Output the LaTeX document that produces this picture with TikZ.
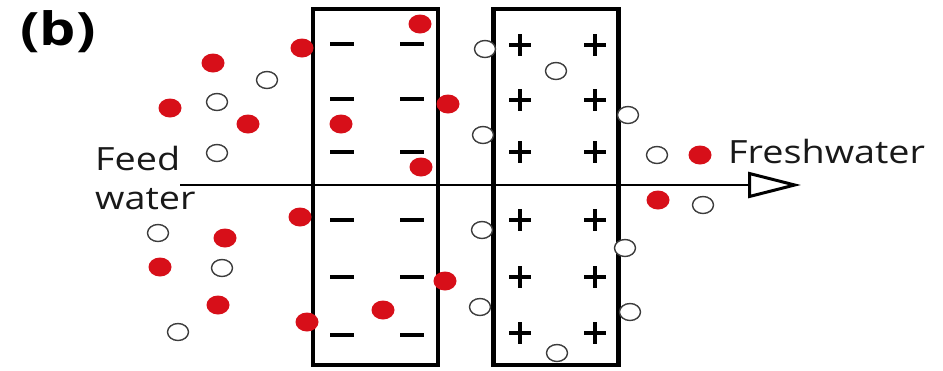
\documentclass[tikz,border=0pt]{standalone}
\usepackage{fontspec}
\setmainfont{Open Sans}
\usetikzlibrary{shapes.geometric,arrows.meta}
\definecolor{ionred}{RGB}{215,15,25}
\definecolor{ringgray}{RGB}{60,60,60}
\tikzset{
  membrane/.style={draw=black,line width=4.5pt,rectangle,minimum width=125pt,minimum height=356pt,inner sep=0pt},
  cation/.style={ellipse,fill=ionred,draw=none,minimum width=23pt,minimum height=19pt,inner sep=0pt},
  anion/.style={ellipse,fill=white,draw=ringgray,line width=1.4pt,minimum width=21pt,minimum height=17pt,inner sep=0pt},
  chargebar/.style={line width=3.5pt},
  lbl/.style={font=\fontsize{32}{34}\selectfont,xscale=1.18,inner sep=0pt,text=black!90}
}
\begin{document}
\begin{tikzpicture}[x=1pt,y=-1pt]
\useasboundingbox (0,0) rectangle (943,370);
% labels
\node[font=\fontsize{46}{48}\bfseries\selectfont,xscale=1.25,inner sep=0pt,anchor=base west] (b) at (20,45) {(b)};
\node[lbl,anchor=base west] (feed) at (95,170) {Feed};
\node[lbl,anchor=base west] (water) at (95,209) {water};
\node[lbl,anchor=base west] (fresh) at (728,163) {Freshwater};
% flow line
\coordinate (fs) at (180,185);
\coordinate (ft) at (801,185);
\draw[line width=2pt,-{Triangle[open,length=53pt,width=26pt,line width=3pt]}] (fs) -- (ft);
% membranes
\node[membrane] (cem) at (375.5,187) {};
\node[membrane] (aem) at (556,187) {};
% minus signs
\foreach \y in {44,99,152,220,277,335}{
  \foreach \x in {342,412}{
    \draw[chargebar] (\x-12,\y) -- (\x+12,\y);
  }
}
% plus signs
\foreach \y in {45,100,152,220,277,333}{
  \foreach \x in {520,595}{
    \draw[chargebar] (\x-11,\y) -- (\x+11,\y);
    \draw[chargebar] (\x,\y-11) -- (\x,\y+11);
  }
}
% cations (red)
\foreach \x/\y [count=\i] in {213/63,302/48,170/108,248/124,300/217,225/238,160/267,218/305,307/322,420/24,448/104,341/124,421/167,445/281,383/310,700/155,658/200}{
  \node[cation] (c\i) at (\x,\y) {};
}
% anions (open)
\foreach \x/\y [count=\i] in {267/80,217/102,217/153,158/233,222/268,178/332,485/49,556/71,628/115,483/135,482/230,625/248,480/307,630/312,557/353,657/155,703/205}{
  \node[anion] (a\i) at (\x,\y) {};
}
\end{tikzpicture}
\end{document}
